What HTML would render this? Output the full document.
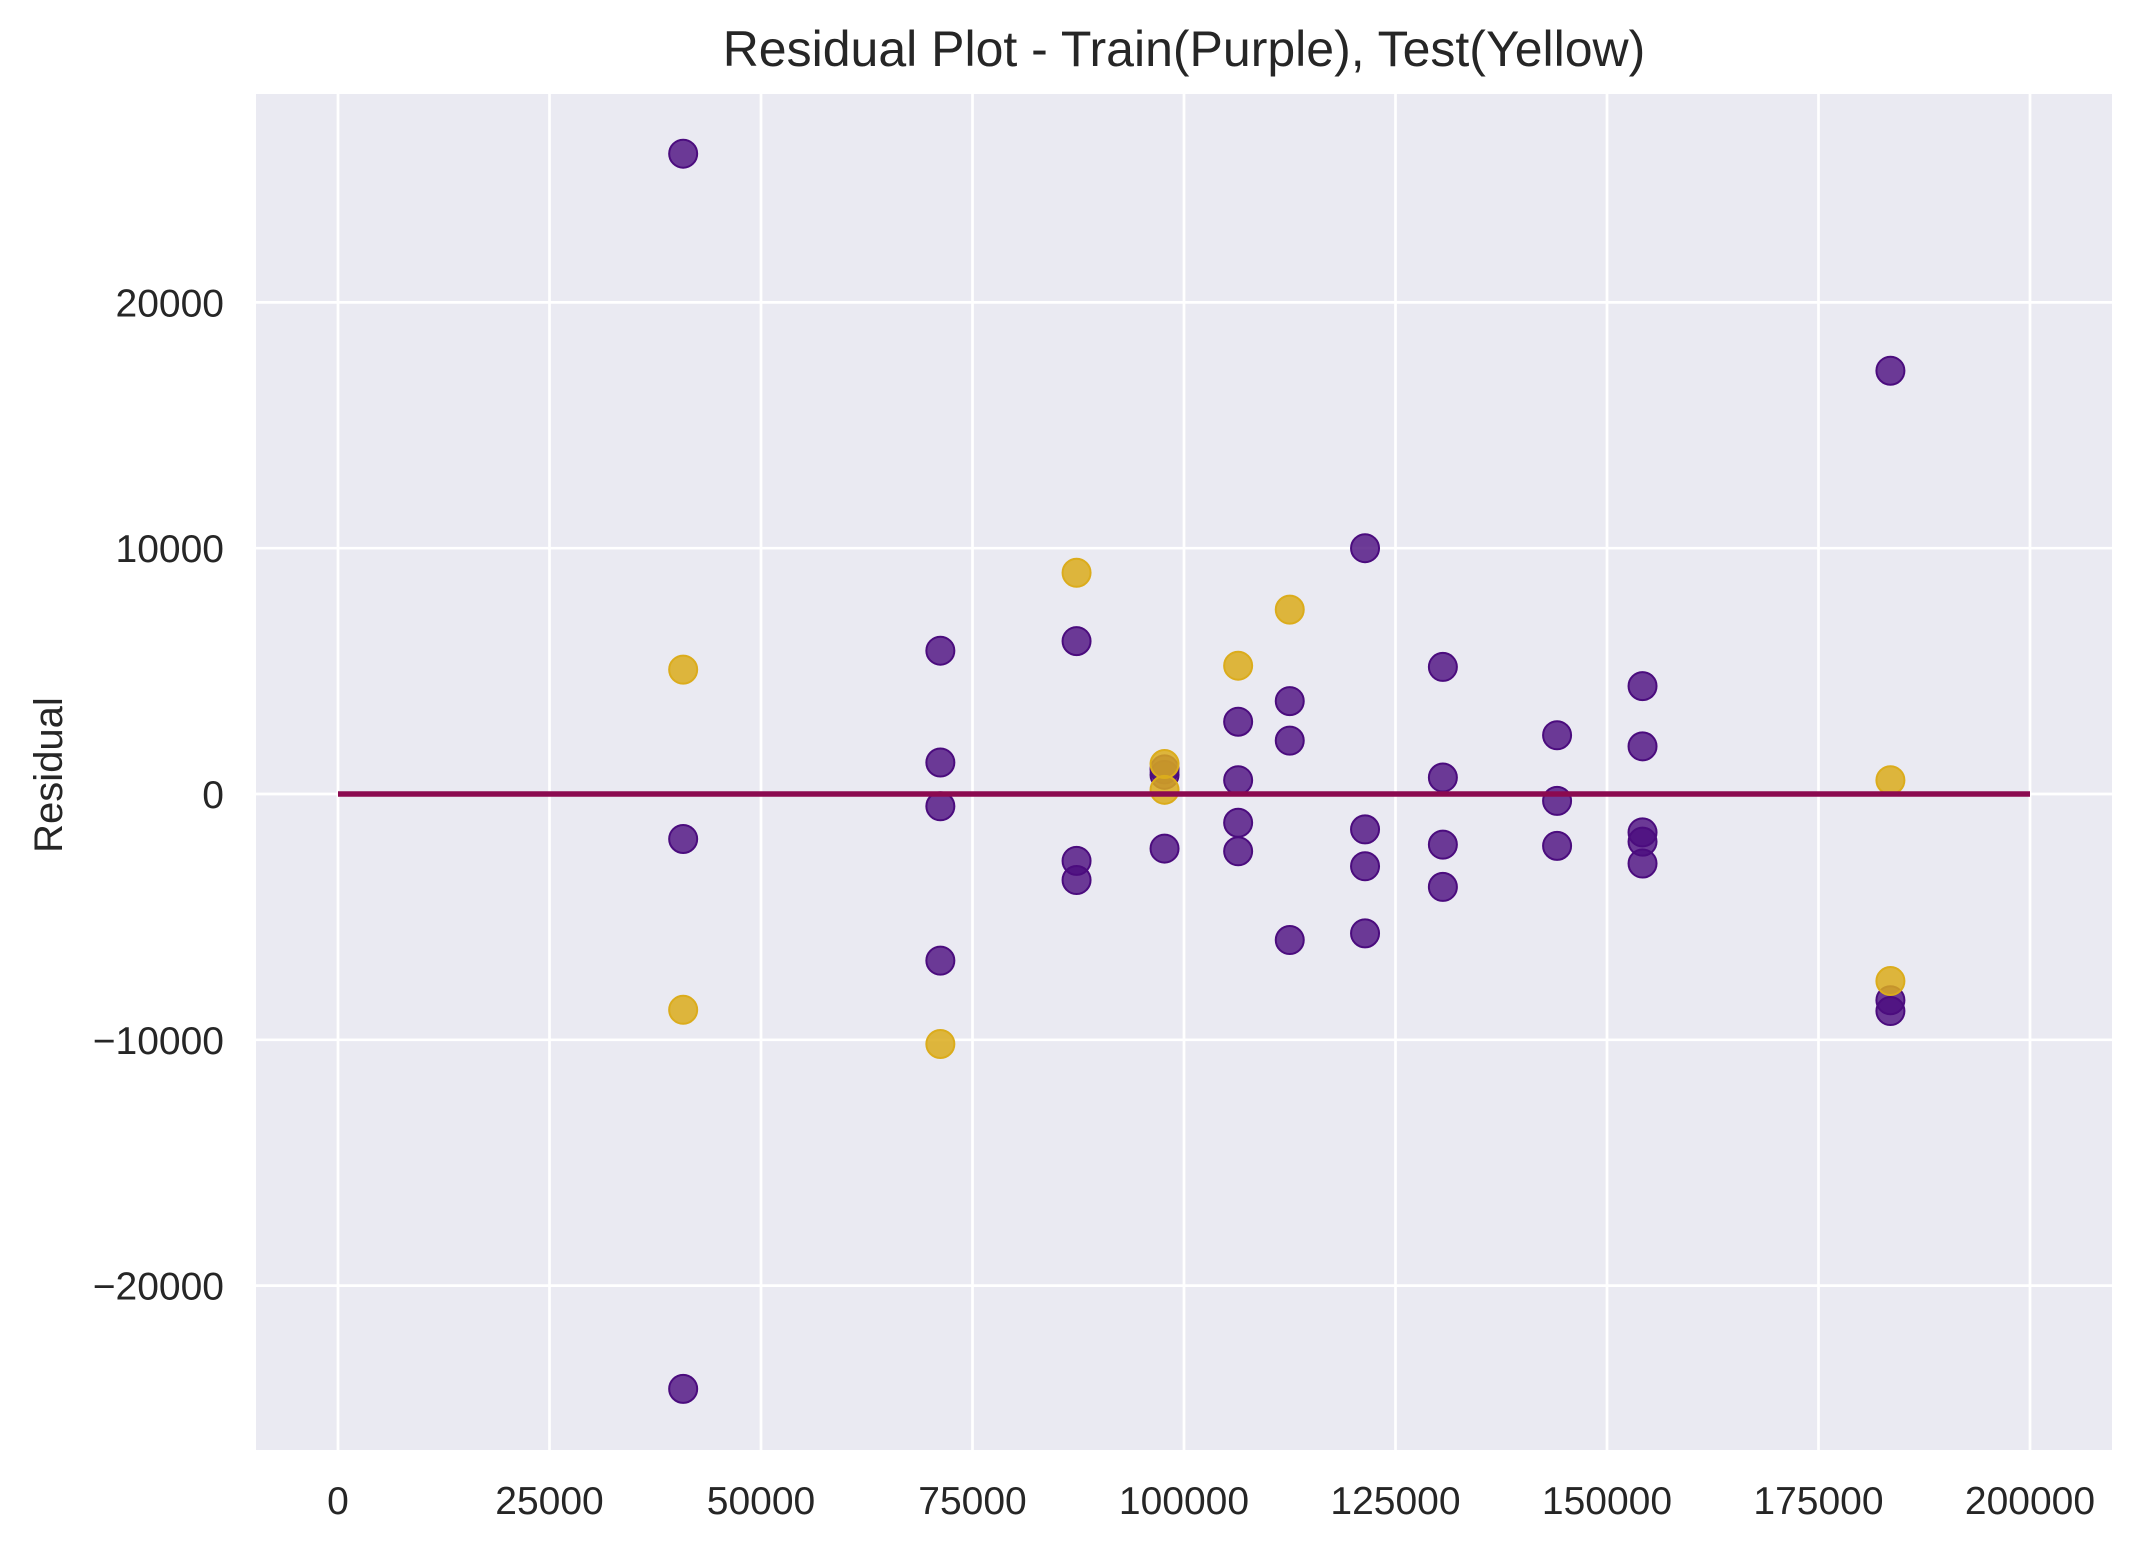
<!DOCTYPE html>
<html><head><meta charset="utf-8"><style>
body{margin:0;background:#fff}
svg text{font-family:"Liberation Sans",Arial,sans-serif;fill:#262626}
</style></head><body>
<svg id="chart" width="2143" height="1548" viewBox="0 0 2143 1548" xmlns="http://www.w3.org/2000/svg">
<rect x="0" y="0" width="2143" height="1548" fill="#fff"/>
<rect x="256" y="94" width="1856" height="1356" fill="#eaeaf2"/>
<g id="grid"></g>
<g id="marks"></g>
<g id="labels"></g>
<text x="1184" y="66" font-size="50" text-anchor="middle">Residual Plot - Train(Purple), Test(Yellow)</text>
<text x="0" y="0" font-size="40" text-anchor="middle" transform="translate(62,775) rotate(-90)">Residual</text>
</svg>
<script>
const xTicks=[0,25000,50000,75000,100000,125000,150000,175000,200000];
const yTicks=[-20000,-10000,0,10000,20000];
const trainX=[40800,40800,40800,71200,71200,71200,71200,87300,87300,87300,97700,97700,97700,106400,106400,106400,106400,112500,112500,112500,121400,121400,121400,121400,130600,130600,130600,130600,144100,144100,144100,154200,154200,154200,154200,154200,183500,183500,183500];
const trainY=[26050,-1830,-24200,5830,1280,-500,-6780,6220,-2720,-3500,1000,780,-2220,2940,560,-1170,-2330,3780,2170,-5940,10000,-1440,-2940,-5670,5170,670,-2060,-3780,2390,-280,-2110,4390,1940,-1560,-1940,-2830,17220,-8390,-8830];
const testX=[40800,40800,71200,87300,97700,97700,106400,112500,183500,183500];
const testY=[5060,-8780,-10170,9000,1220,170,5220,7500,560,-7610];
const NS='http://www.w3.org/2000/svg';
const X=v=>338+v*0.00846;
const Y=v=>794-v*0.02458;
function mk(tag,attrs,parent){const e=document.createElementNS(NS,tag);for(const k in attrs)e.setAttribute(k,attrs[k]);parent.appendChild(e);return e;}
const grid=document.getElementById('grid'),marks=document.getElementById('marks'),labels=document.getElementById('labels');
xTicks.forEach(t=>{
 const l=mk('line',{x1:X(t),x2:X(t),y1:94,y2:1450,stroke:'#fff','stroke-width':2.7},grid);
 
 
 const tx=mk('text',{x:X(t),y:1514,'font-size':39,'text-anchor':'middle'},labels);
 tx.textContent=t;
 
 
});
yTicks.forEach(t=>{
 const l=mk('line',{x1:256,x2:2112,y1:Y(t),y2:Y(t),stroke:'#fff','stroke-width':2.7},grid);
 
 
 const tx=mk('text',{x:224,y:Y(t)+14,'font-size':39,'text-anchor':'end'},labels);
 tx.textContent=t<0?'\u2212'+Math.abs(t):t;
 
 
});
trainX.forEach((x,i)=>{
 const c=mk('circle',{cx:X(x),cy:Y(trainY[i]),r:14,fill:'#4b0c7e','fill-opacity':0.8,stroke:'#4b0c7e','stroke-width':2},marks);
 
 
});
testX.forEach((x,i)=>{
 const c=mk('circle',{cx:X(x),cy:Y(testY[i]),r:14,fill:'#dbac1c','fill-opacity':0.85,stroke:'#dbac1c','stroke-width':2},marks);
 
 
});
const zl=mk('line',{x1:X(0),x2:X(200000),y1:Y(0),y2:Y(0),stroke:'#8b0a50','stroke-width':5.5},marks);


</script>
</body></html>
